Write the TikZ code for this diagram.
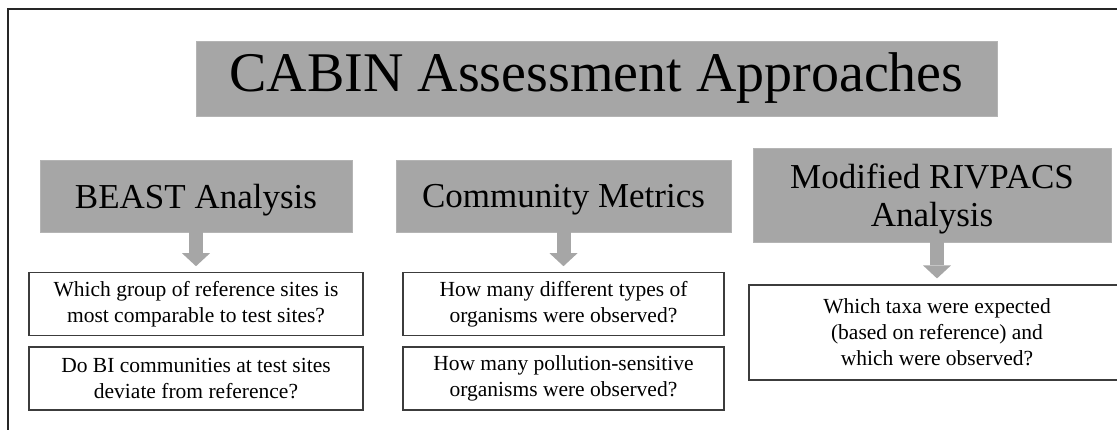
\documentclass[tikz,border=0pt]{standalone}
\usepackage{fontspec}
\setmainfont{Liberation Serif}
\usetikzlibrary{arrows.meta,positioning}
\definecolor{boxgray}{HTML}{A6A6A6}
\definecolor{rimgray}{HTML}{B4B4B4}
\definecolor{edgegray}{HTML}{3C3C3C}
\tikzstyle{titlebox} = [fill=boxgray, draw=rimgray, inner sep=0pt, font=\fontsize{56}{60}\selectfont]
\tikzstyle{head} = [fill=boxgray, draw=rimgray, inner sep=0pt, text depth=0pt, align=center, font=\fontsize{35}{38}\selectfont]
\tikzstyle{question} = [draw=edgegray, line width=1.2pt, fill=white, inner sep=0pt, align=center, font=\fontsize{21.5}{26}\selectfont]
\tikzstyle{down} = [draw=boxgray, line width=14pt, -{Triangle[line width=0pt, width=28pt, length=13pt]}, shorten >=6pt]

\begin{document}
\begin{tikzpicture}[x=1pt,y=-1pt]

  \useasboundingbox (0,0) rectangle (1117,429);
  \clip (0,0) rectangle (1117,429);
  \draw[line width=1.6pt, black!85] (8,9) rectangle (1140,450);

  \node[titlebox, minimum width=801pt, minimum height=75pt] (title) at (596.5,78.5) {CABIN Assessment Approaches};

  \node[head, minimum width=312pt, minimum height=72pt] (beast) at (196,196) {BEAST Analysis};
  \node[head, minimum width=335pt, minimum height=72pt] (metrics) at (563.5,196) {Community Metrics};
  \node[head, minimum width=358pt, minimum height=94pt] (rivpacs) at (932,195) {Modified RIVPACS\\Analysis};

  \node[question, minimum width=334pt, minimum height=63pt] (bq1) [below=40pt of beast] {Which group of reference sites is\\most comparable to test sites?};
  \node[question, minimum width=334pt, minimum height=63pt] (bq2) [below=10pt of bq1] {Do BI communities at test sites\\deviate from reference?};
  \node[question, minimum width=321pt, minimum height=63pt] (mq1) [below=40pt of metrics] {How many different types of\\organisms were observed?};
  \node[question, minimum width=321pt, minimum height=63pt] (mq2) [below=10pt of mq1] {How many pollution-sensitive\\organisms were observed?};
  \node[question, minimum width=376pt, minimum height=95pt] (rq) at (937,332.5) {Which taxa were expected\\(based on reference) and\\which were observed?};

  \path
    (beast) edge [down] (bq1)
    (metrics) edge [down] (mq1)
    (rivpacs.south -| rq.north) edge [down] (rq.north);

\end{tikzpicture}
\end{document}
